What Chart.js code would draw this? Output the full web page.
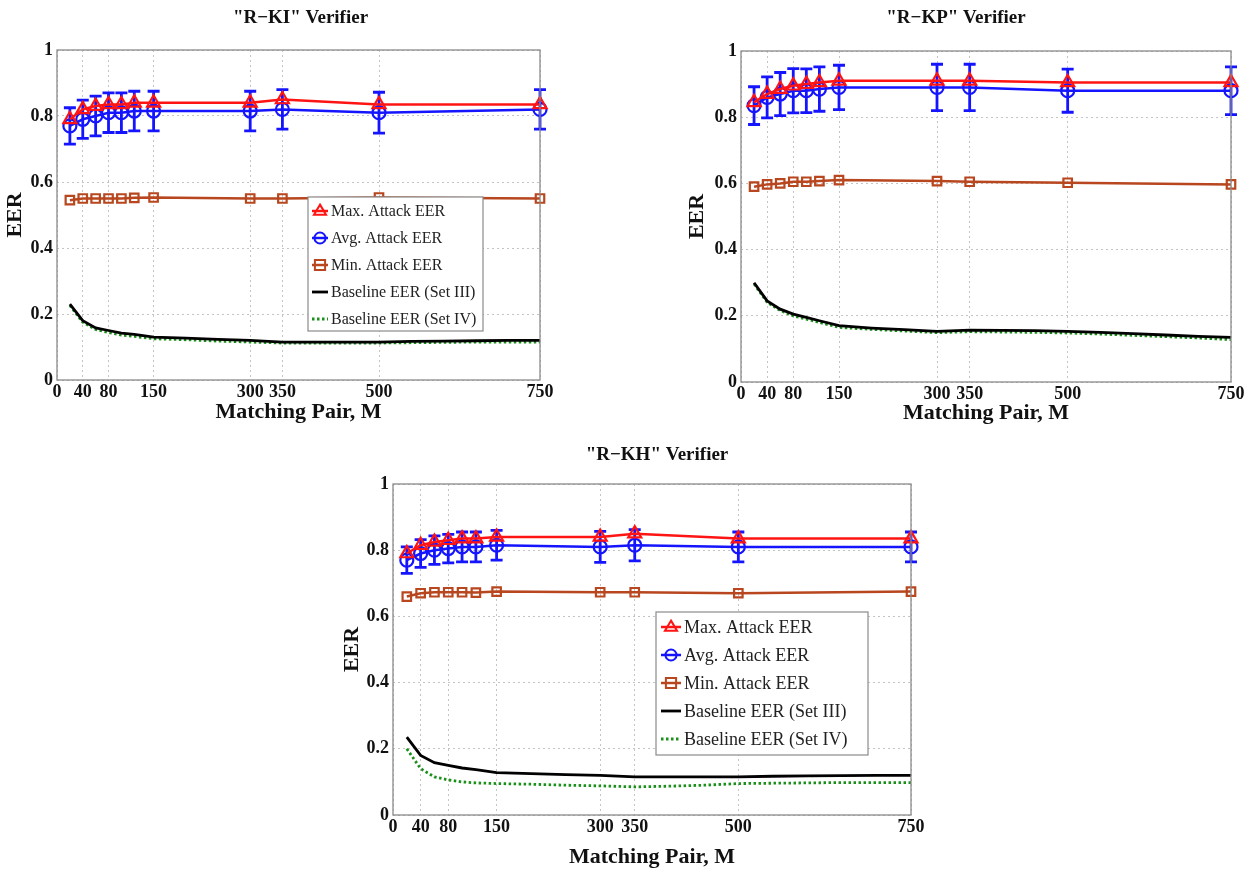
<!DOCTYPE html>
<html lang="en">
<head>
    <meta charset="UTF-8">
    <meta name="viewport" content="width=device-width, initial-scale=1.0">
    <script src="https://cdn.jsdelivr.net/npm/chart.js"></script>
    <title>EER Verifiers</title>
    <style>
        body { margin: 0; background: #fff; width: 1256px; height: 872px; overflow: hidden; position: relative; }
        .box { position: absolute; }
    </style>
</head>
<body>
    <div class="box" style="left:0px; top:0px; width:560px; height:430px;"><canvas id="chartKI"></canvas></div>
    <div class="box" style="left:680px; top:0px; width:576px; height:430px;"><canvas id="chartKP"></canvas></div>
    <div class="box" style="left:335px; top:440px; width:600px; height:432px;"><canvas id="chartKH"></canvas></div>

<script>
    const markX = [20, 40, 60, 80, 100, 120, 150, 300, 350, 500, 750];
    const baseX = [20, 40, 60, 80, 100, 120, 150, 200, 250, 300, 350, 400, 450, 500, 550, 600, 650, 700, 750];
    const xTicks = [0, 40, 80, 150, 300, 350, 500, 750];
    const yTicks = [0, 0.2, 0.4, 0.6, 0.8, 1];

    // R-KI
    const maxKI = [0.79, 0.82, 0.83, 0.835, 0.835, 0.84, 0.84, 0.84, 0.85, 0.835, 0.835];
    const avgKI = [0.77, 0.79, 0.80, 0.81, 0.81, 0.815, 0.815, 0.815, 0.82, 0.81, 0.82];
    const errKI = [0.055, 0.058, 0.06, 0.06, 0.06, 0.06, 0.06, 0.06, 0.06, 0.062, 0.06];
    const minKI = [0.545, 0.55, 0.55, 0.55, 0.55, 0.552, 0.553, 0.55, 0.55, 0.553, 0.55];
    const base3KI = [0.23, 0.18, 0.158, 0.15, 0.142, 0.138, 0.13, 0.127, 0.123, 0.12, 0.115, 0.115, 0.115, 0.115, 0.117, 0.118, 0.119, 0.12, 0.12];
    const base4KI = [0.226, 0.175, 0.153, 0.144, 0.136, 0.132, 0.125, 0.122, 0.118, 0.115, 0.112, 0.112, 0.112, 0.112, 0.113, 0.114, 0.115, 0.115, 0.115];

    // R-KP
    const maxKP = [0.845, 0.87, 0.885, 0.895, 0.9, 0.905, 0.91, 0.91, 0.91, 0.905, 0.905];
    const avgKP = [0.835, 0.86, 0.87, 0.88, 0.88, 0.885, 0.89, 0.89, 0.89, 0.88, 0.88];
    const errKP = [0.057, 0.062, 0.065, 0.067, 0.066, 0.067, 0.067, 0.07, 0.07, 0.065, 0.072];
    const minKP = [0.59, 0.597, 0.6, 0.605, 0.605, 0.607, 0.61, 0.607, 0.605, 0.602, 0.597];
    const base3KP = [0.30, 0.245, 0.22, 0.205, 0.195, 0.185, 0.17, 0.163, 0.158, 0.153, 0.157, 0.156, 0.155, 0.153, 0.15, 0.146, 0.142, 0.138, 0.135];
    const base4KP = [0.296, 0.241, 0.216, 0.2, 0.19, 0.18, 0.165, 0.159, 0.154, 0.149, 0.152, 0.151, 0.15, 0.148, 0.145, 0.141, 0.137, 0.133, 0.128];

    // R-KH
    const maxKH = [0.79, 0.815, 0.825, 0.83, 0.835, 0.835, 0.84, 0.84, 0.85, 0.835, 0.835];
    const avgKH = [0.77, 0.79, 0.80, 0.805, 0.81, 0.81, 0.815, 0.81, 0.815, 0.81, 0.81];
    const errKH = [0.04, 0.042, 0.043, 0.043, 0.045, 0.045, 0.045, 0.047, 0.047, 0.045, 0.045];
    const minKH = [0.66, 0.67, 0.673, 0.673, 0.673, 0.672, 0.675, 0.673, 0.673, 0.67, 0.675];
    const base3KH = [0.235, 0.18, 0.158, 0.15, 0.142, 0.137, 0.128, 0.125, 0.122, 0.12, 0.115, 0.115, 0.115, 0.115, 0.117, 0.118, 0.119, 0.12, 0.12];
    const base4KH = [0.2, 0.14, 0.115, 0.106, 0.1, 0.097, 0.095, 0.093, 0.09, 0.088, 0.085, 0.087, 0.09, 0.095, 0.096, 0.097, 0.098, 0.098, 0.098];

    const legendNames = ['Max. Attack EER', 'Avg. Attack EER', 'Min. Attack EER', 'Baseline EER (Set III)', 'Baseline EER (Set IV)'];

    const serif = "'Liberation Serif', 'DejaVu Serif', serif";
    const RED = '#ff1414', BLUE = '#1414ff', BROWN = '#b8461e', GREEN = '#1a8f1a';

    function pts(xs, ys) {
        return xs.map((x, i) => ({ x: x, y: ys[i] }));
    }

    function drawMarker(ctx, style, x, y, r, color) {
        ctx.save();
        ctx.strokeStyle = color;
        ctx.lineWidth = 2;
        ctx.beginPath();
        if (style == 'triangle') {
            ctx.moveTo(x, y - r);
            ctx.lineTo(x + r * 0.95, y + r * 0.6);
            ctx.lineTo(x - r * 0.95, y + r * 0.6);
            ctx.closePath();
        } else if (style == 'circle') {
            ctx.arc(x, y, r, 0, Math.PI * 2);
        } else if (style == 'rect') {
            ctx.rect(x - r, y - r, r * 2, r * 2);
        }
        ctx.stroke();
        ctx.restore();
    }

    // error bars on the Avg. dataset, drawn just before it so red stays on top
    const errorBars = {
        id: 'errorBars',
        beforeDatasetDraw(chart, args, opts) {
            if (args.index != 1 || !opts.err) return;
            const ctx = chart.ctx, xs = chart.scales.x, ys = chart.scales.y;
            const ds = chart.data.datasets[1].data;
            ctx.save();
            ctx.strokeStyle = BLUE;
            ctx.lineWidth = 2.8;
            ds.forEach((p, i) => {
                const px = xs.getPixelForValue(p.x);
                const top = ys.getPixelForValue(p.y + opts.err[i]);
                const bot = ys.getPixelForValue(p.y - opts.err[i]);
                ctx.beginPath();
                ctx.moveTo(px, top); ctx.lineTo(px, bot);
                ctx.moveTo(px - 6, top); ctx.lineTo(px + 6, top);
                ctx.moveTo(px - 6, bot); ctx.lineTo(px + 6, bot);
                ctx.stroke();
            });
            ctx.restore();
        }
    };

    // MATLAB-like box, title and legend inside the plot
    const axesBox = {
        id: 'axesBox',
        afterDraw(chart, args, opts) {
            const ctx = chart.ctx, a = chart.chartArea;
            ctx.save();
            ctx.strokeStyle = '#8a8a8a';
            ctx.lineWidth = 1.3;
            ctx.strokeRect(a.left, a.top, a.right - a.left, a.bottom - a.top);
            ctx.font = 'bold 19px ' + serif;
            ctx.fillStyle = '#111';
            ctx.textAlign = 'center';
            ctx.textBaseline = 'middle';
            ctx.fillText(opts.title, (a.left + a.right) / 2 + opts.titleDx, opts.titleY);
            ctx.restore();

            const lg = opts.legend;
            if (!lg) return;
            const x0 = a.left + lg.left, y0 = a.top + lg.top;
            ctx.save();
            ctx.fillStyle = '#fff';
            ctx.fillRect(x0, y0, lg.width, lg.height);
            ctx.strokeStyle = '#8a8a8a';
            ctx.lineWidth = 1.2;
            ctx.strokeRect(x0, y0, lg.width, lg.height);
            ctx.font = lg.fontSize + 'px ' + serif;
            ctx.textBaseline = 'middle';
            chart.data.datasets.forEach((ds, i) => {
                const cy = y0 + lg.first + i * lg.step;
                const lx = x0 + lg.lineStart;
                ctx.save();
                ctx.strokeStyle = ds.borderColor;
                ctx.lineWidth = ds.borderWidth;
                ctx.setLineDash(ds.borderDash || []);
                ctx.beginPath();
                ctx.moveTo(lx, cy); ctx.lineTo(lx + lg.lineLen, cy);
                ctx.stroke();
                ctx.restore();
                if (ds.pointRadius > 0) {
                    drawMarker(ctx, ds.pointStyle, lx + lg.lineLen / 2, cy, ds.pointRadius * 0.85, ds.borderColor);
                }
                ctx.fillStyle = '#222';
                ctx.fillText(ds.label, lx + lg.lineLen + 3, cy + 1);
            });
            ctx.restore();
        }
    };

    function montarGrafico(id, titulo, dados, cfg) {
        const datasets = [
            { label: legendNames[0], data: pts(markX, dados.max), borderColor: RED, borderWidth: 2.5, pointStyle: 'triangle', pointRadius: 7.5, pointBorderWidth: 2.2, pointBackgroundColor: 'rgba(0,0,0,0)', pointBorderColor: RED, clip: false },
            { label: legendNames[1], data: pts(markX, dados.avg), borderColor: BLUE, borderWidth: 2.5, pointStyle: 'circle', pointRadius: 6.5, pointBorderWidth: 2.2, pointBackgroundColor: 'rgba(0,0,0,0)', pointBorderColor: BLUE, clip: false },
            { label: legendNames[2], data: pts(markX, dados.min), borderColor: BROWN, borderWidth: 2.5, pointStyle: 'rect', pointRadius: 6, pointBorderWidth: 2.2, pointBackgroundColor: 'rgba(0,0,0,0)', pointBorderColor: BROWN, clip: false },
            { label: legendNames[3], data: pts(baseX, dados.base3), borderColor: '#000', borderWidth: 2.8, pointRadius: 0 },
            { label: legendNames[4], data: pts(baseX, dados.base4), borderColor: GREEN, borderWidth: 2.8, borderDash: [2.5, 2.5], pointRadius: 0 }
        ];

        const fTick = { family: serif, size: 18, weight: 'bold' };

        return new Chart(document.getElementById(id), {
            type: 'line',
            data: { datasets: datasets },
            plugins: [errorBars, axesBox],
            options: {
                responsive: true,
                maintainAspectRatio: false,
                animation: false,
                layout: { padding: { right: cfg.padRight, left: 0, top: cfg.padTop, bottom: 0 } },
                elements: { line: { tension: 0 } },
                scales: {
                    x: {
                        type: 'linear', min: 0, max: 750,
                        afterBuildTicks: s => { s.ticks = xTicks.map(v => ({ value: v })); },
                        afterFit: s => { s.height = cfg.xH; },
                        ticks: { font: fTick, color: '#111', padding: 2, maxRotation: 0, autoSkip: false, callback: v => String(v) },
                        grid: { color: '#c4c4c4', lineWidth: 1, drawTicks: false },
                        border: { display: false, dash: [2, 3] },
                        title: { display: true, text: 'Matching Pair, M', color: '#111', font: { family: serif, size: 22, weight: 'bold' }, padding: { top: 0, bottom: cfg.xTitlePad } }
                    },
                    y: {
                        min: 0, max: 1,
                        afterBuildTicks: s => { s.ticks = yTicks.map(v => ({ value: v })); },
                        afterFit: s => { s.width = cfg.yW; },
                        ticks: { font: fTick, color: '#111', padding: 4, callback: v => String(v) },
                        grid: { color: '#c4c4c4', lineWidth: 1, drawTicks: false },
                        border: { display: false, dash: [2, 3] },
                        title: { display: true, text: 'EER', color: '#111', font: { family: serif, size: 22, weight: 'bold' }, padding: { top: cfg.yTitlePad, bottom: 0 } }
                    }
                },
                plugins: {
                    legend: { display: false },
                    tooltip: { enabled: false },
                    title: { display: false },
                    errorBars: { err: dados.err },
                    axesBox: { legend: cfg.legend, title: titulo, titleY: cfg.titleY, titleDx: cfg.titleDx }
                }
            }
        });
    }

    montarGrafico('chartKI', '"R\u2212KI" Verifier',
        { max: maxKI, avg: avgKI, err: errKI, min: minKI, base3: base3KI, base4: base4KI },
        { yW: 57, xH: 50, padRight: 20, padTop: 50, xTitlePad: 4.8, yTitlePad: 1.8, titleY: 18, titleDx: 2,
          legend: { left: 251, top: 147, width: 175, height: 134, fontSize: 16, first: 14, step: 27, lineStart: 4, lineLen: 16 } });

    montarGrafico('chartKP', '"R\u2212KP" Verifier',
        { max: maxKP, avg: avgKP, err: errKP, min: minKP, base3: base3KP, base4: base4KP },
        { yW: 61, xH: 48, padRight: 25, padTop: 51, xTitlePad: 3.8, yTitlePad: 3.8, titleY: 18, titleDx: -30, legend: null });

    montarGrafico('chartKH', '"R\u2212KH" Verifier',
        { max: maxKH, avg: avgKH, err: errKH, min: minKH, base3: base3KH, base4: base4KH },
        { yW: 58, xH: 57, padRight: 24, padTop: 44, xTitlePad: 1.8, yTitlePad: 3.8, titleY: 15, titleDx: 5,
          legend: { left: 263, top: 128, width: 212, height: 143, fontSize: 18, first: 15, step: 28, lineStart: 5, lineLen: 20 } });
</script>
</body>
</html>
